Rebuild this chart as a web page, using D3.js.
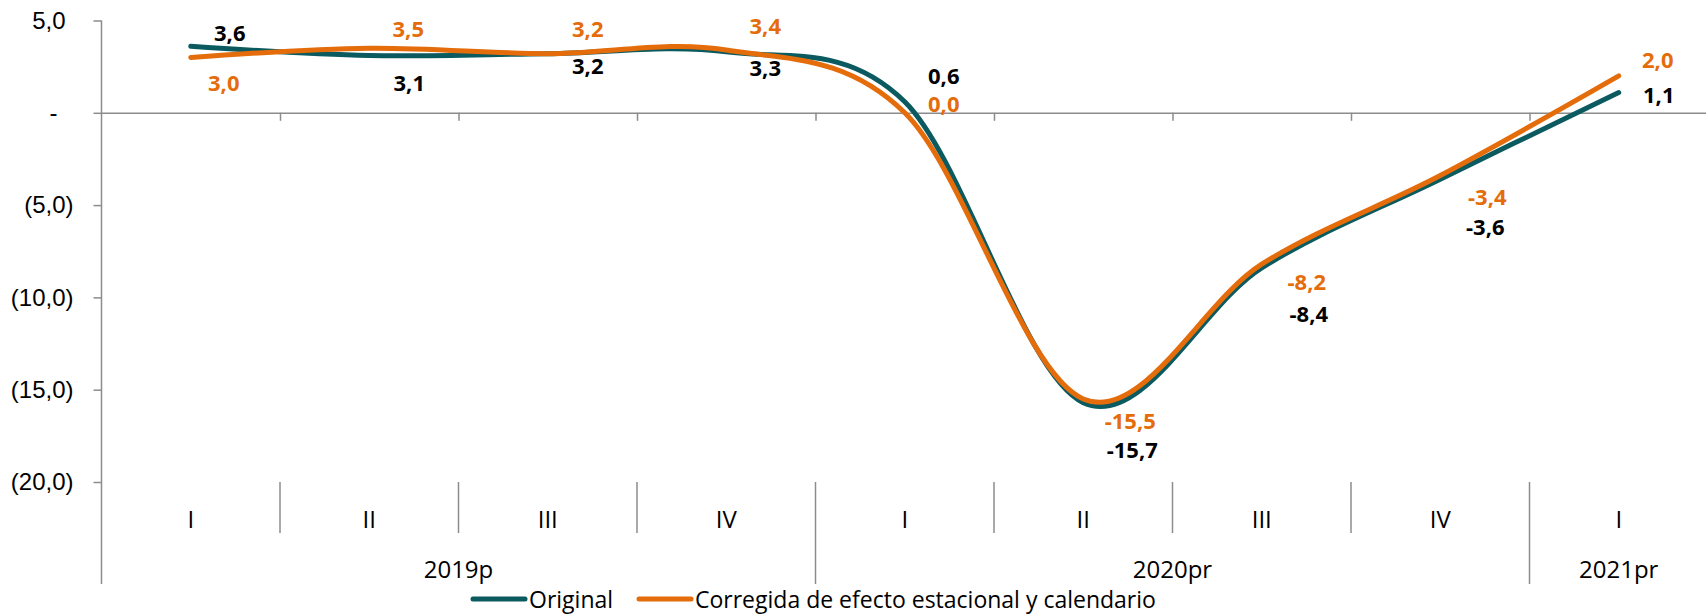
<!DOCTYPE html>
<html>
<head>
<meta charset="utf-8">
<script src="https://cdn.jsdelivr.net/npm/d3@7"></script>
<style>
  body { margin: 0; background: #fff; }
  svg { display: block; font-family: "Open Sans", sans-serif; }
</style>
</head>
<body>
<svg id="chart" width="1706" height="615"></svg>
<script>
// Data
var quarters = ['I', 'II', 'III', 'IV', 'I', 'II', 'III', 'IV', 'I'];
var years = [
    { label: '2019p', from: 0, to: 4 },
    { label: '2020pr', from: 4, to: 8 },
    { label: '2021pr', from: 8, to: 9 }
];
var original = [3.6, 3.1, 3.2, 3.3, 0.6, -15.7, -8.4, -3.6, 1.1];
var corregida = [3.0, 3.5, 3.2, 3.4, 0.0, -15.5, -8.2, -3.4, 2.0];
var yTicks = [-20, -15, -10, -5, 0, 5];

// Label placement (px offsets from each point), set by hand like in the original sheet
var origLabelDx = [39, 40, 40, 39, 39, 49, 47, 45, 40];
var origLabelDy = [-14, 26, 11, 15, -27, 46, 45, 47, 2];
var corrLabelDx = [33, 39, 40, 39, 39, 47, 45, 47, 39];
var corrLabelDy = [25, -20, -26, -25, -10, 21, 17, 20, -17];

var tealColor = '#0b5a5f',
    orangeColor = '#e46c0a',
    axisColor = '#8c8c8c';

var svg = d3.select('#chart');

var xEdge = d3.scaleLinear().domain([0, quarters.length]).range([101.5, 1708]);
var y = d3.scaleLinear().domain([-20, 5]).range([482, 20.5]);

function px(i) { return xEdge(i + 0.5); }

function fmtTick(v) {
    if (v === 0) return '-';
    var s = d3.format('.1f')(Math.abs(v)).replace('.', ',');
    return v < 0 ? '(' + s + ')' : s;
}

// Y axis
var yAxis = svg.append('g')
    .attr('transform', 'translate(101.5,0)')
    .call(d3.axisLeft(y).tickValues(yTicks).tickFormat(fmtTick).tickSizeInner(8).tickSizeOuter(0));
yAxis.select('.domain').remove();
yAxis.selectAll('.tick line').attr('stroke', axisColor).attr('stroke-width', 1.5);
yAxis.selectAll('.tick text')
    .attr('fill', '#000')
    .style('font-size', '24px')
    .attr('x', function(d) { return d < 0 ? -28 : (d === 0 ? -44 : -36); });

// vertical axis line, runs down through the category rows
svg.append('line')
    .attr('x1', 101.5).attr('x2', 101.5)
    .attr('y1', y(5)).attr('y2', 584)
    .attr('stroke', axisColor).attr('stroke-width', 1.5);

// Zero line with small ticks at category boundaries
var zeroAxis = svg.append('g')
    .attr('transform', 'translate(0,' + y(0) + ')')
    .call(d3.axisBottom(xEdge).tickValues(d3.range(1, quarters.length)).tickFormat('').tickSizeInner(8).tickSizeOuter(0));
zeroAxis.selectAll('path, line').attr('stroke', axisColor).attr('stroke-width', 1.5);

// Category rows
var boundaries = d3.range(1, quarters.length);
svg.append('g').selectAll('line')
    .data(boundaries)
    .join('line')
    .attr('x1', function(d) { return xEdge(d); })
    .attr('x2', function(d) { return xEdge(d); })
    .attr('y1', y(-20))
    .attr('y2', function(d) { return years.some(function(yr) { return yr.from === d; }) ? 584 : 533; })
    .attr('stroke', axisColor).attr('stroke-width', 1.5);

svg.append('g').selectAll('text')
    .data(quarters)
    .join('text')
    .attr('x', function(d, i) { return px(i); })
    .attr('y', 518)
    .attr('text-anchor', 'middle')
    .attr('dominant-baseline', 'central')
    .style('font-size', '24px')
    .text(function(d) { return d; });

svg.append('g').selectAll('text')
    .data(years)
    .join('text')
    .attr('x', function(d) { return (xEdge(d.from) + xEdge(d.to)) / 2; })
    .attr('y', 568)
    .attr('text-anchor', 'middle')
    .attr('dominant-baseline', 'central')
    .style('font-size', '24px')
    .text(function(d) { return d.label; });

// Lines
var line = d3.line()
    .x(function(d, i) { return px(i); })
    .y(function(d) { return y(d); })
    .curve(d3.curveCardinal.tension(0));

svg.append('path')
    .datum(original)
    .attr('d', line)
    .attr('fill', 'none')
    .attr('stroke', tealColor)
    .attr('stroke-width', 5)
    .attr('stroke-linecap', 'round');

svg.append('path')
    .datum(corregida)
    .attr('d', line)
    .attr('fill', 'none')
    .attr('stroke', orangeColor)
    .attr('stroke-width', 5)
    .attr('stroke-linecap', 'round');

// Data labels
function fmtVal(v) { return d3.format('.1f')(v).replace('.', ',').replace('−', '-'); }

function addLabels(values, dx, dy, color) {
    svg.append('g').selectAll('text')
        .data(values)
        .join('text')
        .attr('x', function(d, i) { return px(i) + dx[i]; })
        .attr('y', function(d, i) { return y(d) + dy[i]; })
        .attr('text-anchor', 'middle')
        .attr('dominant-baseline', 'central')
        .attr('fill', color)
        .style('font-size', '22px')
        .style('font-weight', 'bold')
        .text(fmtVal);
}
addLabels(original, origLabelDx, origLabelDy, '#000');
addLabels(corregida, corrLabelDx, corrLabelDy, orangeColor);

// Legend
var legendItems = [
    { name: 'Original', color: tealColor, x: 471 },
    { name: 'Corregida de efecto estacional y calendario', color: orangeColor, x: 637 }
];
var legend = svg.append('g').selectAll('g')
    .data(legendItems)
    .join('g')
    .attr('transform', function(d) { return 'translate(' + d.x + ',599)'; });
legend.append('line')
    .attr('x1', 2).attr('x2', 54)
    .attr('stroke', function(d) { return d.color; })
    .attr('stroke-width', 5)
    .attr('stroke-linecap', 'round');
legend.append('text')
    .attr('x', 58)
    .attr('dominant-baseline', 'central')
    .style('font-size', '23px')
    .text(function(d) { return d.name; });
</script>
</body>
</html>
